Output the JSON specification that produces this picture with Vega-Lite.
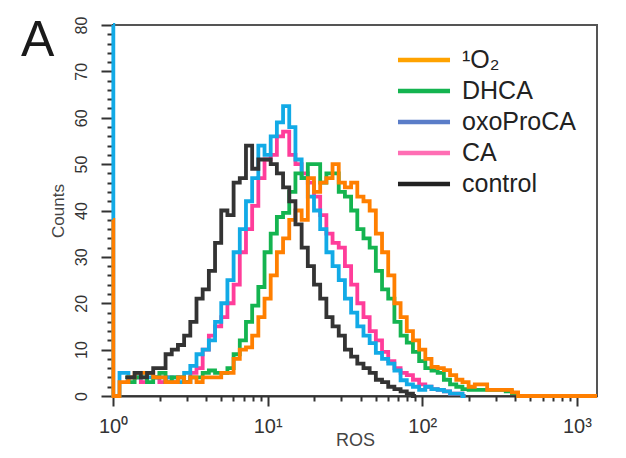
{
  "$schema": "https://vega.github.io/schema/vega-lite/v6.json",
  "width": 484,
  "height": 371,
  "autosize": {"type": "none"},
  "padding": {"left": 113, "top": 25, "right": 29, "bottom": 62},
  "background": "white",
  "title": {"text": "A", "anchor": "start", "frame": "group", "orient": "top", "fontSize": 50, "font": "Liberation Sans", "fontWeight": "normal", "color": "#1a1a1a", "dx": -92, "dy": 90, "baseline": "alphabetic", "offset": 0},
  "config": {
    "font": "Liberation Sans",
    "view": {"stroke": "#555555", "strokeWidth": 2},
    "axis": {"grid": false, "labelColor": "#333333", "titleColor": "#444444", "titleFontWeight": "normal", "labelFont": "Liberation Sans", "titleFont": "Liberation Sans", "labelOverlap": false, "labelFlush": false, "tickColor": "#333333", "tickWidth": 2}
  },
  "data": {"values": [
    {"series":"CA","ROS":1.202,"count":3},{"series":"CA","ROS":1.318,"count":4},{"series":"CA","ROS":1.445,"count":4},{"series":"CA","ROS":1.585,"count":3},{"series":"CA","ROS":1.738,"count":5},{"series":"CA","ROS":1.905,"count":4},{"series":"CA","ROS":2.089,"count":3},{"series":"CA","ROS":2.291,"count":4},{"series":"CA","ROS":2.512,"count":3},{"series":"CA","ROS":2.754,"count":4},{"series":"CA","ROS":3.02,"count":3},{"series":"CA","ROS":3.311,"count":5},{"series":"CA","ROS":3.631,"count":6},{"series":"CA","ROS":3.981,"count":10},{"series":"CA","ROS":4.365,"count":13},{"series":"CA","ROS":4.786,"count":15},{"series":"CA","ROS":5.248,"count":17},{"series":"CA","ROS":5.754,"count":20},{"series":"CA","ROS":6.31,"count":24},{"series":"CA","ROS":6.918,"count":31},{"series":"CA","ROS":7.586,"count":36},{"series":"CA","ROS":8.318,"count":41},{"series":"CA","ROS":9.12,"count":47},{"series":"CA","ROS":10,"count":51},{"series":"CA","ROS":10.96,"count":52},{"series":"CA","ROS":12.02,"count":56},{"series":"CA","ROS":13.18,"count":57},{"series":"CA","ROS":14.45,"count":52},{"series":"CA","ROS":15.85,"count":50},{"series":"CA","ROS":17.38,"count":48},{"series":"CA","ROS":19.05,"count":46},{"series":"CA","ROS":20.89,"count":43},{"series":"CA","ROS":22.91,"count":39},{"series":"CA","ROS":25.12,"count":35},{"series":"CA","ROS":27.54,"count":33},{"series":"CA","ROS":30.2,"count":32},{"series":"CA","ROS":33.11,"count":28},{"series":"CA","ROS":36.31,"count":24},{"series":"CA","ROS":39.81,"count":20},{"series":"CA","ROS":43.65,"count":17},{"series":"CA","ROS":47.86,"count":14},{"series":"CA","ROS":52.48,"count":12},{"series":"CA","ROS":57.54,"count":9.5},{"series":"CA","ROS":63.1,"count":7.5},{"series":"CA","ROS":69.18,"count":6},{"series":"CA","ROS":75.86,"count":5},{"series":"CA","ROS":83.18,"count":4.5},{"series":"CA","ROS":91.2,"count":3.5},{"series":"CA","ROS":100,"count":2.5},{"series":"CA","ROS":109.6,"count":2},{"series":"CA","ROS":120.2,"count":1.5},{"series":"CA","ROS":131.8,"count":1.3},{"series":"CA","ROS":144.5,"count":1},{"series":"CA","ROS":158.5,"count":0.5},{"series":"CA","ROS":173.8,"count":0.5},{"series":"CA","ROS":190.5,"count":0},
    {"series":"oxoProCA","ROS":1,"count":80},{"series":"oxoProCA","ROS":1.01,"count":0},
    {"series":"oxoProCA","ROS":1.202,"count":5},{"series":"oxoProCA","ROS":1.318,"count":4},{"series":"oxoProCA","ROS":1.445,"count":4},{"series":"oxoProCA","ROS":1.585,"count":5},{"series":"oxoProCA","ROS":1.738,"count":4},{"series":"oxoProCA","ROS":1.905,"count":4},{"series":"oxoProCA","ROS":2.089,"count":4},{"series":"oxoProCA","ROS":2.291,"count":4},{"series":"oxoProCA","ROS":2.512,"count":4},{"series":"oxoProCA","ROS":2.754,"count":3},{"series":"oxoProCA","ROS":3.02,"count":5},{"series":"oxoProCA","ROS":3.311,"count":6.5},{"series":"oxoProCA","ROS":3.631,"count":9},{"series":"oxoProCA","ROS":3.981,"count":10},{"series":"oxoProCA","ROS":4.365,"count":12},{"series":"oxoProCA","ROS":4.786,"count":16},{"series":"oxoProCA","ROS":5.248,"count":20},{"series":"oxoProCA","ROS":5.754,"count":25},{"series":"oxoProCA","ROS":6.31,"count":31},{"series":"oxoProCA","ROS":6.918,"count":36},{"series":"oxoProCA","ROS":7.586,"count":42},{"series":"oxoProCA","ROS":8.318,"count":47},{"series":"oxoProCA","ROS":9.12,"count":54},{"series":"oxoProCA","ROS":10,"count":52},{"series":"oxoProCA","ROS":10.96,"count":56},{"series":"oxoProCA","ROS":12.02,"count":59},{"series":"oxoProCA","ROS":13.18,"count":62.5},{"series":"oxoProCA","ROS":14.45,"count":58},{"series":"oxoProCA","ROS":15.85,"count":51},{"series":"oxoProCA","ROS":17.38,"count":47},{"series":"oxoProCA","ROS":19.05,"count":43},{"series":"oxoProCA","ROS":20.89,"count":40},{"series":"oxoProCA","ROS":22.91,"count":36},{"series":"oxoProCA","ROS":25.12,"count":31},{"series":"oxoProCA","ROS":27.54,"count":28},{"series":"oxoProCA","ROS":30.2,"count":25},{"series":"oxoProCA","ROS":33.11,"count":21},{"series":"oxoProCA","ROS":36.31,"count":18},{"series":"oxoProCA","ROS":39.81,"count":15},{"series":"oxoProCA","ROS":43.65,"count":13},{"series":"oxoProCA","ROS":47.86,"count":11.4},{"series":"oxoProCA","ROS":52.48,"count":9.3},{"series":"oxoProCA","ROS":57.54,"count":8},{"series":"oxoProCA","ROS":63.1,"count":7},{"series":"oxoProCA","ROS":69.18,"count":5.5},{"series":"oxoProCA","ROS":75.86,"count":3.4},{"series":"oxoProCA","ROS":83.18,"count":2.5},{"series":"oxoProCA","ROS":91.2,"count":2},{"series":"oxoProCA","ROS":100,"count":1.3},{"series":"oxoProCA","ROS":109.6,"count":2},{"series":"oxoProCA","ROS":120.2,"count":1.5},{"series":"oxoProCA","ROS":131.8,"count":1.3},{"series":"oxoProCA","ROS":144.5,"count":1},{"series":"oxoProCA","ROS":158.5,"count":0.5},{"series":"oxoProCA","ROS":173.8,"count":0.5},{"series":"oxoProCA","ROS":190.5,"count":0},
    {"series":"DHCA","ROS":1.202,"count":4},{"series":"DHCA","ROS":1.318,"count":3},{"series":"DHCA","ROS":1.445,"count":4},{"series":"DHCA","ROS":1.585,"count":4},{"series":"DHCA","ROS":1.738,"count":3},{"series":"DHCA","ROS":1.905,"count":4},{"series":"DHCA","ROS":2.089,"count":5},{"series":"DHCA","ROS":2.291,"count":3},{"series":"DHCA","ROS":2.512,"count":4},{"series":"DHCA","ROS":2.754,"count":4},{"series":"DHCA","ROS":3.02,"count":3},{"series":"DHCA","ROS":3.311,"count":4},{"series":"DHCA","ROS":3.631,"count":4},{"series":"DHCA","ROS":3.981,"count":5},{"series":"DHCA","ROS":4.365,"count":5.5},{"series":"DHCA","ROS":4.786,"count":5},{"series":"DHCA","ROS":5.248,"count":5},{"series":"DHCA","ROS":5.754,"count":6},{"series":"DHCA","ROS":6.31,"count":9},{"series":"DHCA","ROS":6.918,"count":12},{"series":"DHCA","ROS":7.586,"count":16},{"series":"DHCA","ROS":8.318,"count":19.5},{"series":"DHCA","ROS":9.12,"count":23.5},{"series":"DHCA","ROS":10,"count":31},{"series":"DHCA","ROS":10.96,"count":35},{"series":"DHCA","ROS":12.02,"count":38.6},{"series":"DHCA","ROS":13.18,"count":39.5},{"series":"DHCA","ROS":14.45,"count":44},{"series":"DHCA","ROS":15.85,"count":48},{"series":"DHCA","ROS":17.38,"count":47},{"series":"DHCA","ROS":19.05,"count":50},{"series":"DHCA","ROS":20.89,"count":50},{"series":"DHCA","ROS":22.91,"count":46},{"series":"DHCA","ROS":25.12,"count":48},{"series":"DHCA","ROS":27.54,"count":48},{"series":"DHCA","ROS":30.2,"count":44},{"series":"DHCA","ROS":33.11,"count":43},{"series":"DHCA","ROS":36.31,"count":40},{"series":"DHCA","ROS":39.81,"count":36},{"series":"DHCA","ROS":43.65,"count":34},{"series":"DHCA","ROS":47.86,"count":32},{"series":"DHCA","ROS":52.48,"count":27},{"series":"DHCA","ROS":57.54,"count":23},{"series":"DHCA","ROS":63.1,"count":21},{"series":"DHCA","ROS":69.18,"count":16},{"series":"DHCA","ROS":75.86,"count":13},{"series":"DHCA","ROS":83.18,"count":11.5},{"series":"DHCA","ROS":91.2,"count":9.5},{"series":"DHCA","ROS":100,"count":7.5},{"series":"DHCA","ROS":109.6,"count":6},{"series":"DHCA","ROS":120.2,"count":5.5},{"series":"DHCA","ROS":131.8,"count":5},{"series":"DHCA","ROS":144.5,"count":3.5},{"series":"DHCA","ROS":158.5,"count":2.5},{"series":"DHCA","ROS":173.8,"count":2},{"series":"DHCA","ROS":190.5,"count":1.5},{"series":"DHCA","ROS":208.9,"count":1.3},{"series":"DHCA","ROS":229.1,"count":1.3},{"series":"DHCA","ROS":251.2,"count":1.3},{"series":"DHCA","ROS":275.4,"count":1.3},{"series":"DHCA","ROS":302,"count":1.3},{"series":"DHCA","ROS":331.1,"count":1.3},{"series":"DHCA","ROS":363.1,"count":1},{"series":"DHCA","ROS":398.1,"count":0.6},{"series":"DHCA","ROS":436.5,"count":0},
    {"series":"¹O₂","ROS":1,"count":38},{"series":"¹O₂","ROS":1.01,"count":0},
    {"series":"¹O₂","ROS":1.202,"count":3},{"series":"¹O₂","ROS":1.318,"count":4},{"series":"¹O₂","ROS":1.445,"count":5},{"series":"¹O₂","ROS":1.585,"count":5},{"series":"¹O₂","ROS":1.738,"count":5},{"series":"¹O₂","ROS":1.905,"count":4},{"series":"¹O₂","ROS":2.089,"count":4},{"series":"¹O₂","ROS":2.291,"count":3},{"series":"¹O₂","ROS":2.512,"count":3},{"series":"¹O₂","ROS":2.754,"count":4},{"series":"¹O₂","ROS":3.02,"count":3},{"series":"¹O₂","ROS":3.311,"count":4},{"series":"¹O₂","ROS":3.631,"count":3},{"series":"¹O₂","ROS":3.981,"count":4},{"series":"¹O₂","ROS":4.365,"count":4},{"series":"¹O₂","ROS":4.786,"count":4},{"series":"¹O₂","ROS":5.248,"count":5},{"series":"¹O₂","ROS":5.754,"count":5},{"series":"¹O₂","ROS":6.31,"count":8},{"series":"¹O₂","ROS":6.918,"count":10},{"series":"¹O₂","ROS":7.586,"count":10.5},{"series":"¹O₂","ROS":8.318,"count":13},{"series":"¹O₂","ROS":9.12,"count":17},{"series":"¹O₂","ROS":10,"count":21},{"series":"¹O₂","ROS":10.96,"count":26},{"series":"¹O₂","ROS":12.02,"count":31},{"series":"¹O₂","ROS":13.18,"count":34},{"series":"¹O₂","ROS":14.45,"count":38},{"series":"¹O₂","ROS":15.85,"count":40},{"series":"¹O₂","ROS":17.38,"count":38},{"series":"¹O₂","ROS":19.05,"count":47},{"series":"¹O₂","ROS":20.89,"count":44},{"series":"¹O₂","ROS":22.91,"count":46},{"series":"¹O₂","ROS":25.12,"count":47},{"series":"¹O₂","ROS":27.54,"count":50},{"series":"¹O₂","ROS":30.2,"count":46},{"series":"¹O₂","ROS":33.11,"count":45},{"series":"¹O₂","ROS":36.31,"count":46},{"series":"¹O₂","ROS":39.81,"count":43},{"series":"¹O₂","ROS":43.65,"count":42},{"series":"¹O₂","ROS":47.86,"count":40},{"series":"¹O₂","ROS":52.48,"count":35},{"series":"¹O₂","ROS":57.54,"count":31},{"series":"¹O₂","ROS":63.1,"count":26},{"series":"¹O₂","ROS":69.18,"count":20},{"series":"¹O₂","ROS":75.86,"count":17},{"series":"¹O₂","ROS":83.18,"count":14},{"series":"¹O₂","ROS":91.2,"count":12},{"series":"¹O₂","ROS":100,"count":10},{"series":"¹O₂","ROS":109.6,"count":8},{"series":"¹O₂","ROS":120.2,"count":6.3},{"series":"¹O₂","ROS":131.8,"count":6},{"series":"¹O₂","ROS":144.5,"count":5.6},{"series":"¹O₂","ROS":158.5,"count":4.5},{"series":"¹O₂","ROS":173.8,"count":3.5},{"series":"¹O₂","ROS":190.5,"count":3},{"series":"¹O₂","ROS":208.9,"count":2},{"series":"¹O₂","ROS":229.1,"count":2.5},{"series":"¹O₂","ROS":251.2,"count":2.5},{"series":"¹O₂","ROS":275.4,"count":1.3},{"series":"¹O₂","ROS":302,"count":1.3},{"series":"¹O₂","ROS":331.1,"count":1.3},{"series":"¹O₂","ROS":363.1,"count":1.3},{"series":"¹O₂","ROS":398.1,"count":0.8},{"series":"¹O₂","ROS":436.5,"count":0},{"series":"¹O₂","ROS":1350,"count":0},
    {"series":"control","ROS":1.202,"count":4},{"series":"control","ROS":1.318,"count":4},{"series":"control","ROS":1.445,"count":5},{"series":"control","ROS":1.585,"count":4},{"series":"control","ROS":1.738,"count":5},{"series":"control","ROS":1.905,"count":6},{"series":"control","ROS":2.089,"count":6},{"series":"control","ROS":2.291,"count":9},{"series":"control","ROS":2.512,"count":10},{"series":"control","ROS":2.754,"count":11},{"series":"control","ROS":3.02,"count":13},{"series":"control","ROS":3.311,"count":16},{"series":"control","ROS":3.631,"count":21},{"series":"control","ROS":3.981,"count":23},{"series":"control","ROS":4.365,"count":27},{"series":"control","ROS":4.786,"count":33},{"series":"control","ROS":5.248,"count":40},{"series":"control","ROS":5.754,"count":39},{"series":"control","ROS":6.31,"count":46},{"series":"control","ROS":6.918,"count":47},{"series":"control","ROS":7.586,"count":54},{"series":"control","ROS":8.318,"count":49},{"series":"control","ROS":9.12,"count":51},{"series":"control","ROS":10,"count":51},{"series":"control","ROS":10.96,"count":50},{"series":"control","ROS":12.02,"count":48},{"series":"control","ROS":13.18,"count":45},{"series":"control","ROS":14.45,"count":42},{"series":"control","ROS":15.85,"count":37},{"series":"control","ROS":17.38,"count":32},{"series":"control","ROS":19.05,"count":28},{"series":"control","ROS":20.89,"count":24},{"series":"control","ROS":22.91,"count":21},{"series":"control","ROS":25.12,"count":17},{"series":"control","ROS":27.54,"count":15},{"series":"control","ROS":30.2,"count":13},{"series":"control","ROS":33.11,"count":10},{"series":"control","ROS":36.31,"count":8.5},{"series":"control","ROS":39.81,"count":7},{"series":"control","ROS":43.65,"count":6},{"series":"control","ROS":47.86,"count":5},{"series":"control","ROS":52.48,"count":3.5},{"series":"control","ROS":57.54,"count":3},{"series":"control","ROS":63.1,"count":2},{"series":"control","ROS":69.18,"count":1.5},{"series":"control","ROS":75.86,"count":1},{"series":"control","ROS":83.18,"count":0.5},{"series":"control","ROS":91.2,"count":0}
  ]},
  "resolve": {"axis": {"x": "independent", "y": "independent"}},
  "layer": [
    {
      "mark": {"type": "line", "interpolate": "step"},
      "encoding": {
        "x": {"field": "ROS", "type": "quantitative", "scale": {"type": "log", "domain": [1, 1350], "nice": false},
          "axis": {"orient": "bottom", "values": [1, 10, 100, 1000],
            "labelExpr": "datum.value==1?'10⁰':datum.value==10?'10¹':datum.value==100?'10²':'10³'",
            "ticks": true, "tickSize": 10, "domain": true, "domainColor": "#333333", "domainWidth": 2, "labelOverlap": false,
            "title": "ROS", "labelFontSize": 20, "labelPadding": 10, "titleFontSize": 18, "titlePadding": -5}},
        "y": {"field": "count", "type": "quantitative", "scale": {"domain": [0, 80], "nice": false},
          "axis": {"orient": "left", "values": [0, 10, 20, 30, 40, 50, 60, 70, 80], "labelOverlap": false,
            "ticks": true, "tickSize": 12, "domain": true, "domainColor": "#333333", "domainWidth": 2,
            "labelAngle": -90, "labelAlign": "center", "labelBaseline": "bottom", "labelPadding": 12, "labelFontSize": 16,
            "title": "Counts", "titleFontSize": 17, "titlePadding": 6}},
        "stroke": {"field": "series", "type": "nominal", "scale": {"domain": ["CA","oxoProCA","DHCA","¹O₂","control"], "range": ["#ff3d9a","#12aae6","#14b450","#ff7f00","#333333"]}, "legend": null},
        "strokeWidth": {"field": "series", "type": "nominal", "scale": {"domain": ["CA","oxoProCA","DHCA","¹O₂","control"], "range": [3.8,3.8,3.8,3.8,1.2]}, "legend": null}
      }
    },
    {
      "transform": [{"filter": "datum.count < 0"}],
      "mark": {"type": "line"},
      "encoding": {
        "x": {"field": "ROS", "type": "quantitative", "scale": {"type": "log"},
          "axis": {"orient": "bottom", "values": [2,3,4,5,6,7,8,9,20,30,40,50,60,70,80,90,200,300,400,500,600,700,800,900], "labels": false, "domain": false, "ticks": true, "tickSize": 5, "title": null}},
        "y": {"field": "count", "type": "quantitative",
          "axis": {"orient": "left", "values": [2,4,6,8,12,14,16,18,22,24,26,28,32,34,36,38,42,44,46,48,52,54,56,58,62,64,66,68,72,74,76,78], "labels": false, "domain": false, "ticks": true, "tickSize": 6, "title": null}},
        "color": {"field": "series", "type": "nominal",
          "scale": {"domain": ["¹O₂","DHCA","oxoProCA","CA","control"], "range": ["#ffa200","#14b450","#5a7dc8","#ff6eb4","#222222"]},
          "legend": {"orient": "none", "legendX": 298, "legendY": 22, "title": null, "labelFontSize": 25, "labelFont": "Liberation Sans", "labelColor": "#222222", "symbolType": "M-2.5,0H2.5", "symbolSize": 433, "symbolStrokeWidth": 4.5, "labelOffset": 25, "rowPadding": 5, "padding": 0}}
      }
    }
  ]
}
